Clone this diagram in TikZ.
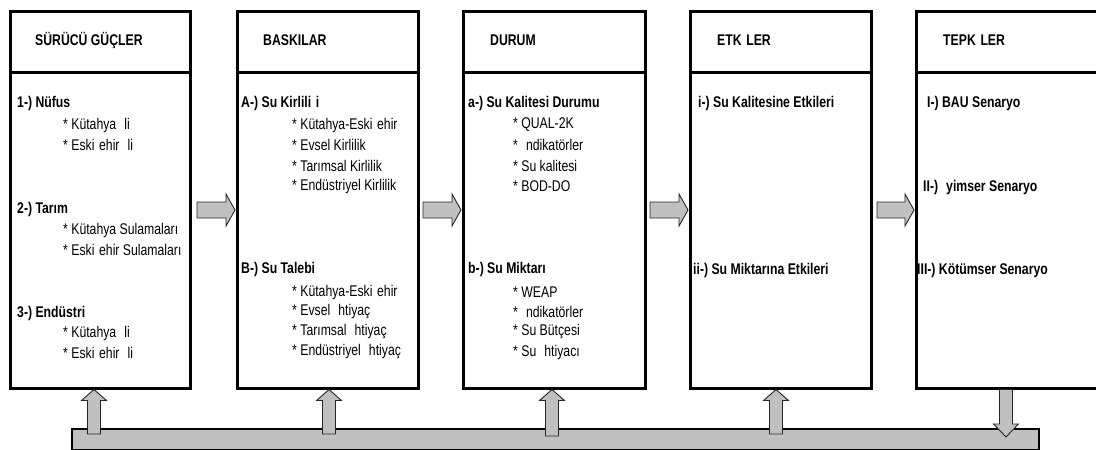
\documentclass[tikz,border=0pt]{standalone}
\usepackage{fontspec}
\setmainfont{Liberation Sans}[FakeStretch=0.79]
\definecolor{blkgray}{HTML}{C0C0C0}
\newcommand{\gp}{\hspace{0.3em}}
\newcommand{\rarr}[3]{\draw[blk] (#1,#3-8) -- (#2-9,#3-8) -- (#2-9,#3-16) -- (#2,#3) -- (#2-9,#3+16) -- (#2-9,#3+8) -- (#1,#3+8) -- cycle;}
\newcommand{\uarr}[3]{\draw[blk] (#1-6.5,#3) -- (#1-6.5,#2+11) -- (#1-12.5,#2+11) -- (#1,#2) -- (#1+12.5,#2+11) -- (#1+6.5,#2+11) -- (#1+6.5,#3) -- cycle;}
\newcommand{\darr}[3]{\draw[blk] (#1-6.5,#2) -- (#1-6.5,#3-13) -- (#1-12.5,#3-13) -- (#1,#3) -- (#1+12.5,#3-13) -- (#1+6.5,#3-13) -- (#1+6.5,#2) -- cycle;}
\tikzset{
  box/.style={draw, line width=3pt, minimum height=376.5pt, anchor=north west, inner sep=0pt, outer sep=0pt},
  hdr/.style={anchor=west, inner sep=0pt, font=\bfseries\fontsize{15.5}{17}\selectfont},
  grp/.style={anchor=west, inner sep=0pt, font=\bfseries\fontsize{15.5}{17}\selectfont},
  itm/.style={anchor=west, inner sep=0pt, font=\fontsize{15.5}{17}\selectfont},
  blk/.style={draw=black!85, line width=0.9pt, fill=blkgray},
  barstyle/.style={draw, line width=1.6pt, fill=blkgray, anchor=north west, inner sep=0pt, minimum width=967pt, minimum height=21pt}
}
\begin{document}
\begin{tikzpicture}[x=1pt,y=-1pt]
\useasboundingbox (0,0) rectangle (1096,450);
% boxes
\node[box, minimum width=180pt] (b1) at (10,11.5) {};
\node[box, minimum width=181.5pt] (b2) at (237,11.5) {};
\node[box, minimum width=181.5pt] (b3) at (463.5,11.5) {};
\node[box, minimum width=181.5pt] (b4) at (690,11.5) {};
\node[box, minimum width=190pt] (b5) at (916.5,11.5) {};
\foreach \b in {b1,b2,b3,b4,b5}{
  \draw[line width=3pt] (\b.west |- 0,72) -- (\b.east |- 0,72);
}
% headers
\node[hdr] (h1) at (35,40) {SÜRÜCÜ GÜÇLER};
\node[hdr] (h2) at (263,40) {BASKILAR};
\node[hdr] (h3) at (490,40) {DURUM};
\node[hdr] (h4) at (717,40) {ETK\gp LER};
\node[hdr] (h5) at (943,40) {TEPK\gp LER};
% box 1
\node[grp] (t11) at (17,103) {1-) Nüfus};
\node[itm] (t12) at (63,125) {* Kütahya \gp li};
\node[itm] (t13) at (63,145) {* Eski\gp ehir \gp li};
\node[grp] (t14) at (17,209) {2-) Tarım};
\node[itm] (t15) at (63,230) {* Kütahya Sulamaları};
\node[itm] (t16) at (63,250) {* Eski\gp ehir Sulamaları};
\node[grp] (t17) at (17,313) {3-) Endüstri};
\node[itm] (t18) at (63,333) {* Kütahya \gp li};
\node[itm] (t19) at (63,353) {* Eski\gp ehir \gp li};
% box 2
\node[grp] (t21) at (241,103) {A-) Su Kirlili\gp i};
\node[itm] (t22) at (292,125) {* Kütahya-Eski\gp ehir};
\node[itm] (t23) at (292,145) {* Evsel Kirlilik};
\node[itm] (t24) at (292,166) {* Tarımsal Kirlilik};
\node[itm] (t25) at (292,186) {* Endüstriyel Kirlilik};
\node[grp] (t26) at (241,269) {B-) Su Talebi};
\node[itm] (t27) at (292,292) {* Kütahya-Eski\gp ehir};
\node[itm] (t28) at (292,312) {* Evsel \gp htiyaç};
\node[itm] (t29) at (292,332) {* Tarımsal \gp htiyaç};
\node[itm] (t2a) at (292,352) {* Endüstriyel \gp htiyaç};
% box 3
\node[grp] (t31) at (468,103) {a-) Su Kalitesi Durumu};
\node[itm] (t32) at (513,125) {* QUAL-2K};
\node[itm] (t33) at (513,145) {* \gp ndikatörler};
\node[itm] (t34) at (513,166) {* Su kalitesi};
\node[itm] (t35) at (513,186) {* BOD-DO};
\node[grp] (t36) at (468,269) {b-) Su Miktarı};
\node[itm] (t37) at (513,292) {* WEAP};
\node[itm] (t38) at (513,312) {* \gp ndikatörler};
\node[itm] (t39) at (513,332) {* Su Bütçesi};
\node[itm] (t3a) at (513,352) {* Su \gp htiyacı};
% box 4
\node[grp] (t41) at (698,103) {i-) Su Kalitesine Etkileri};
\node[grp] (t42) at (693,270) {ii-) Su Miktarına Etkileri};
% box 5
\node[grp] (t51) at (927,103) {I-) BAU Senaryo};
\node[grp] (t52) at (923,187) {II-) \gp yimser Senaryo};
\node[grp] (t53) at (917,270) {III-) Kötümser Senaryo};
% horizontal block arrows
\rarr{197}{235}{210}
\rarr{423}{461}{210}
\rarr{650}{688}{210}
\rarr{877}{914}{210}
% bottom bar
\node[barstyle] (bar) at (71,428) {};
% vertical block arrows
\uarr{94}{389.5}{434}
\uarr{329}{389.5}{434}
\uarr{552}{389.5}{436}
\uarr{776}{389.5}{434}
\darr{1006}{389.5}{437}
\end{tikzpicture}
\end{document}
